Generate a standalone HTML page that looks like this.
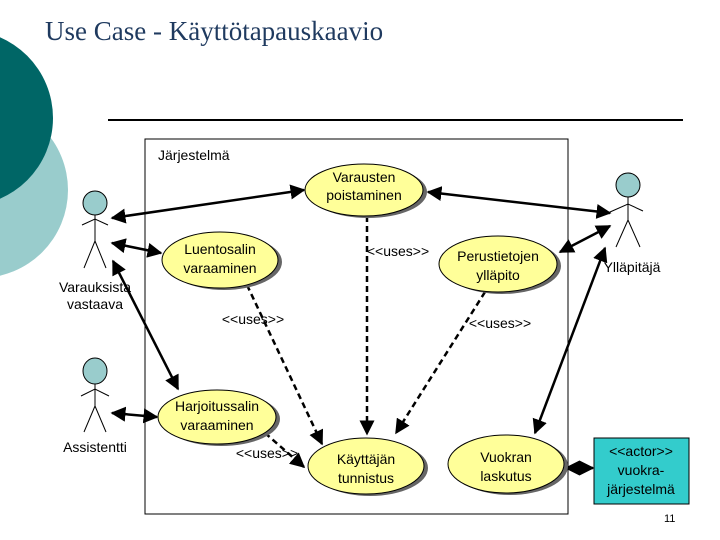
<!DOCTYPE html>
<html><head><meta charset="utf-8"><style>
html,body{margin:0;padding:0;background:#fff;width:720px;height:540px;overflow:hidden}
svg{display:block}
text{font-family:"Liberation Sans",sans-serif;font-size:14px;fill:#000}
</style></head><body>
<svg width="720" height="540" viewBox="0 0 720 540" xmlns="http://www.w3.org/2000/svg">
<defs>
<marker id="a" viewBox="0 0 10 10" refX="9" refY="5" markerWidth="6" markerHeight="6" orient="auto-start-reverse"><path d="M0,0 L10,5 L0,10 z" fill="#000"/></marker>
</defs>
<circle cx="-20" cy="190" r="88" fill="#99CCCC"/>
<circle cx="-35" cy="118" r="88" fill="#006666"/>
<text x="45" y="40" style="font-family:'Liberation Serif',serif;font-size:27px;fill:#1F3A5F">Use Case - Käyttötapauskaavio</text>
<line x1="108" y1="120" x2="683" y2="120" stroke="#000" stroke-width="2"/>
<rect x="145" y="139" width="423" height="375" fill="none" stroke="#000" stroke-width="1"/>
<text x="158" y="160">Järjestelmä</text>

<g stroke="#000" stroke-width="2.5" fill="none">
<line x1="112" y1="218" x2="304" y2="190" marker-start="url(#a)" marker-end="url(#a)"/>
<line x1="112" y1="243" x2="161" y2="253" marker-start="url(#a)" marker-end="url(#a)"/>
<line x1="113" y1="261" x2="178" y2="389" marker-start="url(#a)" marker-end="url(#a)"/>
<line x1="112" y1="413" x2="157" y2="417" marker-start="url(#a)" marker-end="url(#a)"/>
<line x1="428" y1="192" x2="610" y2="213" marker-start="url(#a)" marker-end="url(#a)"/>
<line x1="560" y1="252" x2="610" y2="226" marker-start="url(#a)" marker-end="url(#a)"/>
<line x1="605" y1="248" x2="535" y2="433" marker-start="url(#a)" marker-end="url(#a)"/>
<line x1="566" y1="468" x2="593" y2="468" marker-start="url(#a)" marker-end="url(#a)"/>
</g>
<g stroke="#000" stroke-width="2.5" fill="none" stroke-dasharray="6,4">
<line x1="367" y1="216" x2="367" y2="434" marker-end="url(#a)"/>
<line x1="247" y1="285" x2="322" y2="444" marker-end="url(#a)"/>
<line x1="485" y1="292" x2="396" y2="433" marker-end="url(#a)"/>
<line x1="265" y1="433" x2="304" y2="467" marker-end="url(#a)"/>
</g>

<g stroke="#000" stroke-width="1">
<ellipse cx="368" cy="192" rx="59" ry="26" fill="#666" stroke="none"/>
<ellipse cx="364" cy="190" rx="59" ry="26" fill="#FFFF99"/>
<ellipse cx="224" cy="262" rx="58" ry="28" fill="#666" stroke="none"/>
<ellipse cx="220" cy="260" rx="58" ry="28" fill="#FFFF99"/>
<ellipse cx="502" cy="266" rx="59" ry="28" fill="#666" stroke="none"/>
<ellipse cx="498" cy="264" rx="59" ry="28" fill="#FFFF99"/>
<ellipse cx="221" cy="419" rx="59" ry="27" fill="#666" stroke="none"/>
<ellipse cx="217" cy="417" rx="59" ry="27" fill="#FFFF99"/>
<ellipse cx="370" cy="468" rx="58" ry="28" fill="#666" stroke="none"/>
<ellipse cx="366" cy="466" rx="58" ry="28" fill="#FFFF99"/>
<ellipse cx="510" cy="466" rx="58" ry="29" fill="#666" stroke="none"/>
<ellipse cx="506" cy="464" rx="58" ry="29" fill="#FFFF99"/>
<rect x="594" y="438" width="95" height="66" fill="#33CCCC"/>
</g>

<g text-anchor="middle">
<text x="364" y="182">Varausten</text><text x="364" y="200">poistaminen</text>
<text x="220" y="254">Luentosalin</text><text x="220" y="273">varaaminen</text>
<text x="498" y="261">Perustietojen</text><text x="498" y="280">ylläpito</text>
<text x="217" y="411">Harjoitussalin</text><text x="217" y="430">varaaminen</text>
<text x="366" y="464">Käyttäjän</text><text x="366" y="483">tunnistus</text>
<text x="506" y="462">Vuokran</text><text x="506" y="481">laskutus</text>
<text x="641" y="456">&lt;&lt;actor&gt;&gt;</text><text x="641" y="475">vuokra-</text><text x="641" y="494">järjestelmä</text>
<text x="398" y="256">&lt;&lt;uses&gt;&gt;</text>
<text x="253" y="324">&lt;&lt;uses&gt;&gt;</text>
<text x="500" y="328">&lt;&lt;uses&gt;&gt;</text>
<text x="267" y="458">&lt;&lt;uses&gt;&gt;</text>
<text x="95" y="292">Varauksista</text><text x="95" y="309">vastaava</text>
<text x="95" y="452">Assistentti</text>
<text x="632" y="272">Ylläpitäjä</text>
</g>
<text x="664" y="522" style="font-size:11px">11</text>

<g stroke="#000" stroke-width="1" fill="#99CCCC">
<ellipse cx="95" cy="203" rx="12" ry="12"/>
<path d="M95,215 V241 M82,225 L95,219 L108,225 M95,241 L84,268 M95,241 L106,268" fill="none"/>
<ellipse cx="95" cy="371" rx="12" ry="13"/>
<path d="M95,384 V406 M81,396 L95,389 L109,396 M95,406 L84,432 M95,406 L106,432" fill="none"/>
<ellipse cx="628" cy="185" rx="12" ry="12"/>
<path d="M628,197 V220 M610,212 L628,204 L643,211 M628,220 L616,247 M628,220 L640,247" fill="none"/>
</g>
</svg>
</body></html>
